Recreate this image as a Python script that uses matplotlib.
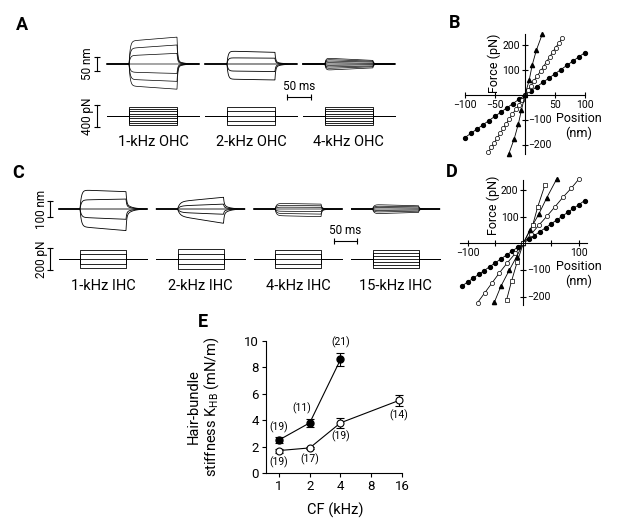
import numpy as np
import matplotlib
matplotlib.use("Agg")
import matplotlib.pyplot as plt

plt.rcParams['font.family'] = ['Roboto', 'DejaVu Sans']
plt.rcParams['mathtext.default'] = 'regular'
plt.rcParams['axes.unicode_minus'] = True

W, H = 617, 524

# ---------------- data ----------------
# A: OHC bundle displacement (nm) at step onset / step end, and force steps (pN)
ohc_names = ["1-kHz OHC", "2-kHz OHC", "4-kHz OHC"]
ohc_x_on = [[82, 56, 30, 0, -29, -55, -78],
            [46, 22, 0, -25, -54],
            [21, 16, 11, 5, 0, -5, -11, -16, -22]]
ohc_x_off = [[96, 68, 38, 0, -34, -62, -90],
             [42, 21, 0, -27, -57],
             [13, 10, 7, 3, 0, -3, -7, -10, -14]]
ohc_force = [[-160, -120, -80, -40, 0, 40, 80, 120, 160],
             [-160, -80, 0, 80, 160],
             [-160, -120, -80, -40, 0, 40, 80, 120, 160]]
ohc_rise = [2.5, 2.5, 2.0]      # ms
ohc_tail = [0.12, 0.2, 0.15]    # fraction left after release

# C: IHC recordings
ihc_names = ["1-kHz IHC", "2-kHz IHC", "4-kHz IHC", "15-kHz IHC"]
ihc_x_on = [[112, 53, 0, -49, -104],
            [43, 18, 0, -20, -41],
            [33, 22, 11, 0, -13, -26, -39],
            [26, 17, 9, 0, -9, -18, -28]]
ihc_x_off = [[102, 59, 0, -61, -127],
             [69, 29, 0, -31, -84],
             [29, 19, 10, 0, -15, -30, -45],
             [19, 13, 6, 0, -6, -13, -20]]
ihc_force = [[-86, -43, 0, 43, 86],
             [-95, -48, 0, 48, 95],
             [-85, -42, 0, 42, 85],
             [-80, -53, -27, 0, 27, 53, 80]]
ihc_rise = [3.0, 5.0, 3.0, 3.0]
ihc_tail = [0.3, 0.35, 0.2, 0.2]

# B: force-displacement relations, OHCs
b_fill_x = [-100, -90, -80, -70, -60, -50, -40, -30, -20, -10, 0, 10, 20, 30, 40, 50, 60, 70, 80, 90, 100]
b_fill_f = [-170, -153, -136, -119, -102, -85, -68, -51, -34, -17, 0, 17, 34, 51, 68, 85, 102, 119, 136, 153, 170]
b_open_x = [-61, -56, -51, -46, -41, -36, -31, -26, -21, -15, -10, -5, 0, 5, 10, 15, 20, 26, 31, 36, 41, 46, 51, 57, 62]
b_open_f = [-228, -209, -190, -171, -152, -133, -114, -95, -76, -57, -38, -19, 0,
            19, 38, 57, 76, 95, 114, 133, 152, 171, 190, 209, 228]
b_tri_x = [-27, -18, -11, -6, 0, 7, 12, 19, 29]
b_tri_f = [-235, -175, -115, -60, 0, 60, 120, 180, 245]

# D: force-displacement relations, IHCs
d_fill_x = [-110, -100, -90, -80, -70, -60, -50, -40, -30, -20, -10, 0, 10, 20, 30, 40, 50, 60, 70, 80, 90, 100, 110]
d_fill_f = [-160, -145, -131, -116, -102, -87, -73, -58, -44, -29, -15, 0, 15, 29, 44, 58, 73, 87, 102, 116, 131, 145, 160]
d_open_x = [-82, -69, -56, -43, -29, -14, 0, 14, 28, 43, 57, 71, 86, 100]
d_open_f = [-222, -185, -148, -111, -74, -37, 0, 34, 68, 103, 137, 172, 206, 241]
d_tri_x = [-52, -40, -25, -12, 0, 12, 28, 42, 60]
d_tri_f = [-221, -160, -100, -50, 0, 50, 110, 170, 241]
d_sq_x = [-30, -21, -11, 0, 17, 26, 39]
d_sq_f = [-212, -141, -70, 0, 69, 137, 219]

# E: hair-bundle stiffness vs characteristic frequency
cf_ohc = [1, 2, 4]
k_ohc = [2.5, 3.8, 8.6]
err_ohc = [0.2, 0.3, 0.5]
n_ohc = ["(19)", "(11)", "(21)"]
cf_ihc = [1, 2, 4, 15]
k_ihc = [1.7, 1.9, 3.8, 5.5]
err_ihc = [0.15, 0.1, 0.4, 0.4]
n_ihc = ["(19)", "(17)", "(19)", "(14)"]
n_ohc_off = [(0, 9.5), (-6, 10.5), (0, 12.5)]
n_ihc_off = [(0, -8.5), (0, -8.5), (0, -10), (0, -10.5)]


def bundle_trace(t, a_on, a_off, rise, tail, dur=100.0):
    x = np.zeros_like(t)
    on = (t >= 0) & (t <= dur)
    x[on] = (a_on + (a_off - a_on) * t[on] / dur) * (1 - np.exp(-t[on] / rise))
    aft = t > dur
    s = t[aft] - dur
    x[aft] = x[on][-1] * ((1 - tail) * np.exp(-s / 1.5) + tail * np.exp(-s / 12.0))
    return x


def px_axes(fig, x0, y0, x1, y1):
    ax = fig.add_axes([x0 / W, 1 - y1 / H, (x1 - x0) / W, (y1 - y0) / H])
    return ax


def draw_recordings(ax_x, ax_f, x_on, x_off, forces, rise, tail, spacing, names, label_y):
    t = np.linspace(-46, 146, 1500)
    for i in range(len(names)):
        t0 = i * spacing
        lw = 0.6 if len(x_on[i]) < 7 else 0.5
        for a_on, a_off in zip(x_on[i], x_off[i]):
            ax_x.plot(t + t0, bundle_trace(t, a_on, a_off, rise[i], tail[i]), color='k', lw=lw)
        for f in forces[i]:
            ax_f.plot(t0 + np.array([-46, 0, 0, 100, 100, 146]), [0, 0, f, f, 0, 0], color='k', lw=0.6)
        ax_f.text(t0 + 50, label_y, names[i], ha='center', va='center', fontsize=10.5, clip_on=False)


def vbar(ax, t, lo, hi, text, text_t):
    ax.plot([t, t], [lo, hi], color='k', lw=0.8, marker='_', ms=5, mew=0.8, clip_on=False)
    ax.text(text_t, (lo + hi) / 2, text, rotation=90, ha='center', va='center', fontsize=8.5)


def hbar(ax, t0, t1, y, text, text_y):
    ax.plot([t0, t1], [y, y], color='k', lw=0.8, marker='|', ms=4, mew=0.8, clip_on=False)
    ax.text((t0 + t1) / 2, text_y, text, ha='center', va='center', fontsize=8.5)


def cross_axes(ax, xb, yb, xt, xtl, fs=7.5):
    for s in ['top', 'right']:
        ax.spines[s].set_visible(False)
    ax.spines['left'].set_position(('data', 0))
    ax.spines['bottom'].set_position(('data', 0))
    ax.spines['bottom'].set_bounds(*xb)
    ax.spines['left'].set_bounds(*yb)
    for s in ['left', 'bottom']:
        ax.spines[s].set_linewidth(0.8)
    ax.set_xticks(xt, labels=xtl)
    ax.set_yticks([-200, -100, 100, 200], labels=['', '', '100', '200'])
    ax.tick_params(direction='inout', length=4, width=0.8, labelsize=fs, pad=1.5)
    ax.patch.set_visible(False)


fig = plt.figure(figsize=(W / 100, H / 100), dpi=100)

# ---------------- A ----------------
axAx = px_axes(fig, 60, 25, 440, 100)
axAf = px_axes(fig, 60, 100, 440, 132)
for ax in (axAx, axAf):
    ax.axis('off')
    ax.set_xlim(-143.75, 647.9)
axAx.set_ylim(-128.6, 139.3)
axAf.set_ylim(-278.3, 278.3)
draw_recordings(axAx, axAf, ohc_x_on, ohc_x_off, ohc_force, ohc_rise, ohc_tail, 204, ohc_names, -452)
vbar(axAx, -66.7, -25, 25, "50 nm", -87.5)
vbar(axAf, -66.7, -200, 200, "400 pN", -87.5)
hbar(axAx, 329, 379, -117.9, "50 ms", -82)

# ---------------- C ----------------
axCx = px_axes(fig, 20, 178, 445, 245)
axCf = px_axes(fig, 20, 245, 445, 275)
for ax in (axCx, axCf):
    ax.axis('off')
    ax.set_xlim(-130.4, 793.5)
axCx.set_ylim(-211.8, 182.4)
axCf.set_ylim(-145.5, 127.3)
draw_recordings(axCx, axCf, ihc_x_on, ihc_x_off, ihc_force, ihc_rise, ihc_tail, 212, ihc_names, -245.5)
vbar(axCx, -65.2, -50, 50, "100 nm", -82.6)
vbar(axCf, -65.2, -100, 100, "200 pN", -82.6)
hbar(axCx, 552, 602, -188, "50 ms", -129)

# ---------------- B ----------------
axB = px_axes(fig, 455, 28, 605, 162)
axB.set_xlim(-116.7, 133.3)
axB.set_ylim(-268, 268)
cross_axes(axB, (-100, 100), (-236, 244), [-100, -50, 50, 100], ['−100', '−50', '50', '100'])
axB.plot(b_fill_x, b_fill_f, '-o', color='k', lw=0.6, ms=2.8, clip_on=False)
axB.plot(b_open_x, b_open_f, '-o', color='k', lw=0.6, ms=3, mfc='white', mew=0.5, clip_on=False)
axB.plot(b_tri_x, b_tri_f, '-^', color='k', lw=0.6, ms=3, clip_on=False)
for v in (-100, -200):
    axB.text(5, v, '−%d' % -v, ha='left', va='center', fontsize=7.5)
axB.text(90, -124, 'Position\n(nm)', ha='center', va='center', fontsize=9, linespacing=1.1)
axB.text(-52, 125, 'Force (pN)', rotation=90, ha='center', va='center', fontsize=9)

# ---------------- D ----------------
axD = px_axes(fig, 455, 175, 605, 312)
axD.set_xlim(-122.6, 146.7)
axD.set_ylim(-257.3, 255.8)
cross_axes(axD, (-114, 114), (-231, 237), [-100, -50, 50, 100], ['−100', '', '', '100'])
axD.plot(d_fill_x, d_fill_f, '-o', color='k', lw=0.6, ms=2.8, clip_on=False)
axD.plot(d_open_x, d_open_f, '-o', color='k', lw=0.6, ms=3, mfc='white', mew=0.5, clip_on=False)
axD.plot(d_tri_x, d_tri_f, '-^', color='k', lw=0.6, ms=3, clip_on=False)
axD.plot(d_sq_x, d_sq_f, '-s', color='k', lw=0.6, ms=3, mfc='white', mew=0.5, clip_on=False)
for v in (-100, -200):
    axD.text(7, v, '−%d' % -v, ha='left', va='center', fontsize=7.5)
axD.text(100, -115, 'Position\n(nm)', ha='center', va='center', fontsize=9, linespacing=1.1)
axD.text(-53, 143, 'Force (pN)', rotation=90, ha='center', va='center', fontsize=9)

# ---------------- E ----------------
axE = px_axes(fig, 266, 341, 402, 473)
axE.set_xscale('log', base=2)
axE.set_xlim(0.746, 16)
axE.set_ylim(0, 10)
axE.set_xticks([1, 2, 4, 8, 16], labels=['1', '2', '4', '8', '16'])
axE.minorticks_off()
axE.set_yticks([0, 2, 4, 6, 8, 10])
for s in ['top', 'right']:
    axE.spines[s].set_visible(False)
for s in ['left', 'bottom']:
    axE.spines[s].set_linewidth(0.8)
axE.tick_params(direction='out', length=3, width=0.8, labelsize=9.5, pad=2)
axE.errorbar(cf_ohc, k_ohc, yerr=err_ohc, fmt='-o', color='k', lw=0.8, ms=5,
             capsize=2.8, elinewidth=0.8, capthick=0.8, clip_on=False, zorder=3)
axE.errorbar(cf_ihc, k_ihc, yerr=err_ihc, fmt='-o', color='k', lw=0.8, ms=5, mfc='white',
             mew=0.8, capsize=2.8, elinewidth=0.8, capthick=0.8, clip_on=False, zorder=3)
for x, y, s, o in zip(cf_ohc, k_ohc, n_ohc, n_ohc_off):
    axE.annotate(s, (x, y), xytext=o, textcoords='offset points', ha='center', va='center', fontsize=7.5)
for x, y, s, o in zip(cf_ihc, k_ihc, n_ihc, n_ihc_off):
    axE.annotate(s, (x, y), xytext=o, textcoords='offset points', ha='center', va='center', fontsize=7.5)
axE.set_xlabel('CF (kHz)', fontsize=10.5)
axE.set_ylabel('Hair-bundle\nstiffness K$_{HB}$ (mN/m)', fontsize=10.5, linespacing=1.1)
axE.xaxis.set_label_coords(0.507, -0.227)
axE.yaxis.set_label_coords(-0.33, 0.5)

# panel letters
for lab, (x, y) in zip("ABCDE", [(22, 25), (455, 23), (18, 173), (452, 172), (203, 322)]):
    fig.text(x / W, 1 - y / H, lab, fontsize=13, fontweight='bold', ha='center', va='center')

fig.savefig("out.png", dpi=100)
